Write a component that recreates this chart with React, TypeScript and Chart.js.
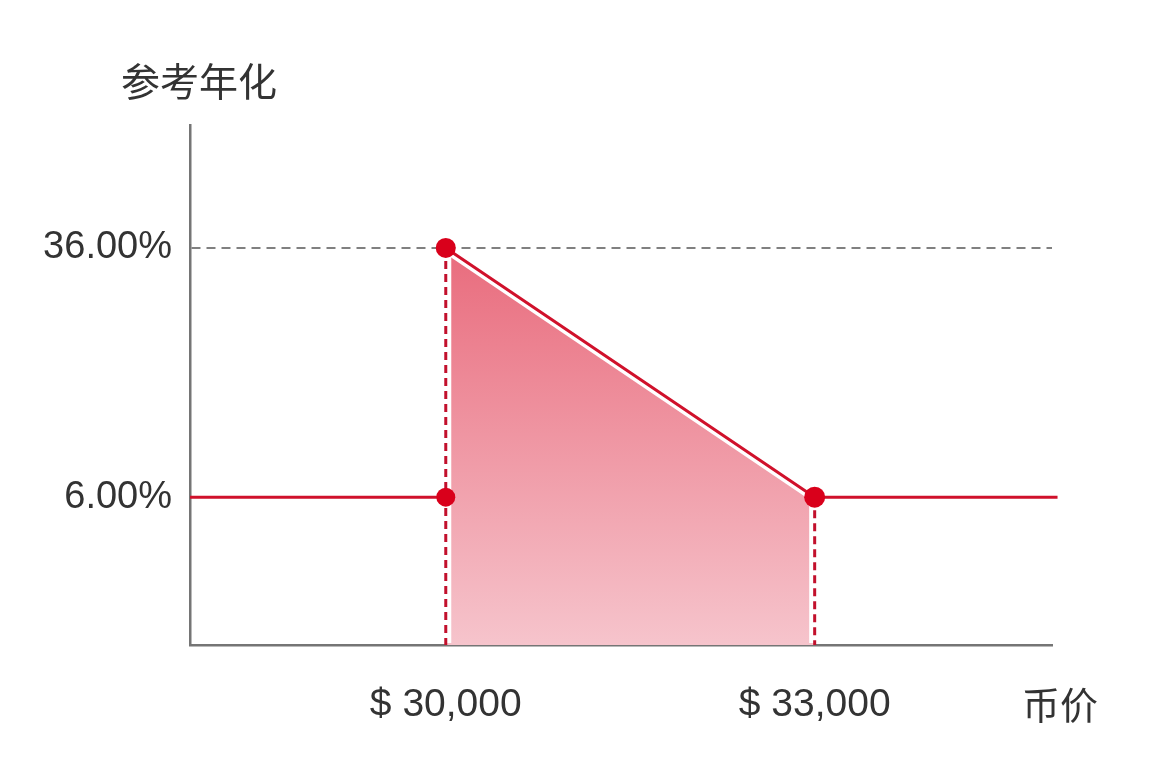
import React, { useEffect, useRef } from 'react';
import { Chart, registerables } from 'chart.js';

Chart.register(...registerables);

// price breakpoints (x) and the rates at them (y)
const priceBreaks = [30000, 33000];
const breakRates = [36, 6];
const baseRate = 6;
const yTicks = [6, 36];

// visible range of both axes
const xMin = 27920;
const xMax = 34930;
const lineEnd = 34975;
const yMin = -11.8;
const yMax = 50.8;

const RED = '#d0112b';
const DASH_RED = '#c2102c';
const DOT = '#d9001b';
const AXIS = '#757575';
const TEXT = '#333333';

const mainLine = [
  { x: xMin, y: baseRate },
  { x: priceBreaks[0], y: baseRate },
  { x: priceBreaks[0], y: null },
  { x: priceBreaks[0], y: breakRates[0] },
  { x: priceBreaks[1], y: breakRates[1] },
  { x: lineEnd, y: baseRate },
];
const mainRadius = [0, 9.5, 0, 10, 10.5, 0];

const areaLine = priceBreaks.map((p, i) => ({ x: p, y: breakRates[i] }));

// dashed drop lines from each breakpoint to the x axis, with a white gap round them
const dropLines = {
  id: 'dropLines',
  afterDatasetDraw(chart: any, args: any) {
    if (args.index !== 1) return;
    const { ctx, scales, chartArea } = chart;
    ctx.save();
    priceBreaks.forEach((p, i) => {
      const x = scales.x.getPixelForValue(p);
      const y = scales.y.getPixelForValue(breakRates[i]);
      ctx.beginPath();
      ctx.moveTo(x, y);
      ctx.lineTo(x, chartArea.bottom - 2);
      ctx.strokeStyle = '#ffffff';
      ctx.lineWidth = 11;
      ctx.setLineDash([]);
      ctx.stroke();
      ctx.beginPath();
      ctx.moveTo(x, y);
      ctx.lineTo(x, chartArea.bottom);
      ctx.strokeStyle = DASH_RED;
      ctx.lineWidth = 3;
      ctx.setLineDash([8, 5]);
      ctx.stroke();
    });
    ctx.restore();
  },
};

const App = () => {
  const canvasRef = useRef<HTMLCanvasElement>(null);
  const chartRef = useRef<Chart | null>(null);

  useEffect(() => {
    if (!canvasRef.current) return;
    const ctx = canvasRef.current.getContext('2d');
    if (!ctx) return;

    if (chartRef.current) {
      chartRef.current.destroy();
      chartRef.current = null;
    }

    chartRef.current = new Chart(ctx, {
      type: 'line',
      data: {
        datasets: [
          {
            data: mainLine as any,
            borderColor: RED,
            borderWidth: 3,
            pointRadius: mainRadius,
            pointHoverRadius: mainRadius,
            pointBackgroundColor: DOT,
            pointBorderWidth: 0,
            fill: false,
            spanGaps: false,
            tension: 0,
            order: 0,
            clip: false as any,
          },
          {
            data: areaLine,
            borderColor: '#ffffff',
            borderWidth: 10,
            pointRadius: 0,
            fill: 'start',
            tension: 0,
            order: 2,
            backgroundColor: (c: any) => {
              const area = c.chart.chartArea;
              if (!area) return '#ee9aa6';
              const g = c.chart.ctx.createLinearGradient(0, area.top + 130, 0, area.bottom);
              g.addColorStop(0, '#e96d7e');
              g.addColorStop(1, '#f6c4cc');
              return g;
            },
          },
        ],
      },
      options: {
        animation: false,
        responsive: true,
        maintainAspectRatio: false,
        layout: { padding: { top: 125, right: 103, left: 0, bottom: 0 } },
        plugins: {
          legend: { display: false },
          tooltip: { enabled: false },
        },
        scales: {
          x: {
            type: 'linear',
            min: xMin,
            max: xMax,
            afterFit: (s: any) => { s.height = 123; },
            afterBuildTicks: (s: any) => { s.ticks = priceBreaks.map((v) => ({ value: v })); },
            grid: { display: false, drawTicks: false },
            border: { display: true, color: AXIS, width: 2.5 },
            ticks: {
              padding: 37,
              color: TEXT,
              font: { family: '"Liberation Sans", Arial, sans-serif', size: 39 },
              callback: (v: any) => '$ ' + Number(v).toLocaleString('en-US'),
            },
          },
          y: {
            type: 'linear',
            min: yMin,
            max: yMax,
            afterFit: (s: any) => { s.width = 190; },
            afterBuildTicks: (s: any) => { s.ticks = yTicks.map((v) => ({ value: v })); },
            grid: {
              drawTicks: false,
              lineWidth: 2,
              color: (c: any) => (c.tick && c.tick.value === 36 ? '#808080' : 'transparent'),
            },
            border: { display: true, color: AXIS, width: 2.5, dash: [9, 6] },
            ticks: {
              padding: 18,
              color: TEXT,
              font: { family: '"Liberation Sans", Arial, sans-serif', size: 38 },
              callback: (v: any) => Number(v).toFixed(2) + '%',
            },
          },
        },
      },
      plugins: [dropLines],
    });

    return () => {
      if (chartRef.current) {
        chartRef.current.destroy();
        chartRef.current = null;
      }
    };
  }, []);

  const label = {
    position: 'absolute' as const,
    fontFamily: '"Noto Sans CJK SC", sans-serif',
    lineHeight: '40px',
    color: TEXT,
    whiteSpace: 'nowrap' as const,
  };

  return (
    <div style={{ position: 'fixed', left: 0, top: 0, width: 1155, height: 768, background: '#fff' }}>
      <canvas ref={canvasRef} />
      <div style={{ ...label, fontSize: 39, left: 121, top: 59 }}>参考年化</div>
      <div style={{ ...label, fontSize: 38, left: 1022, top: 683 }}>币价</div>
    </div>
  );
};

export default App;
